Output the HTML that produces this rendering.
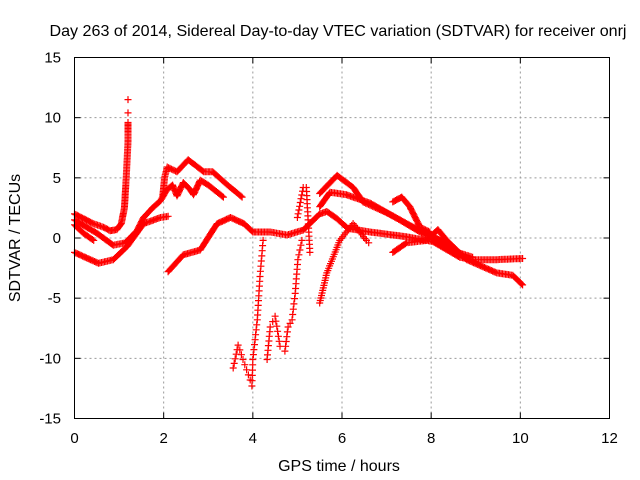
<!DOCTYPE html>
<html><head><meta charset="utf-8"><style>
body{margin:0;background:#fff;}
svg{display:block;font-family:"Liberation Sans",sans-serif;}
</style></head><body>
<svg id="chart" width="640" height="480">
<text x="338" y="36" font-size="16" text-anchor="middle" textLength="577" lengthAdjust="spacingAndGlyphs">Day 263 of 2014, Sidereal Day-to-day VTEC variation (SDTVAR) for receiver onrj</text>
<text x="339" y="471" font-size="16" text-anchor="middle">GPS time / hours</text>
<text x="20" y="238" font-size="16" text-anchor="middle" transform="rotate(-90 20 238)">SDTVAR / TECUs</text>
<g id="grid"></g>
<g id="ticks"></g>
<g id="marks"></g>
<rect x="74.5" y="57.5" width="535" height="361" fill="none" stroke="#000" stroke-width="1"/>
</svg>
<script>
const xTicks=[0,2,4,6,8,10,12];
const yTicks=[-15,-10,-5,0,5,10,15];
// series: flattened [hour, value] pairs
const seriesSpike=[0,2.0, 0.42,1.2, 0.65,0.9, 0.8,0.6, 0.95,0.7, 1.05,1.2, 1.12,2.5, 1.16,5, 1.2,8, 1.2,9.6];
const spikeTop=[1.2,10.4, 1.2,11.5];
const seriesMid=[0,1.5, 0.5,0.4, 0.87,-0.6, 1.14,-0.4, 1.4,0.6, 1.55,1.7, 1.75,2.5, 1.93,3.1, 2.07,4.0, 2.2,4.4, 2.3,3.5, 2.44,4.6, 2.6,4.0, 2.67,3.6, 2.82,4.8, 3.0,4.4, 3.34,3.4];
const seriesShort=[0,1.1, 0.2,0.4, 0.43,-0.2];
const seriesLow=[0,-1.2, 0.54,-2.1, 0.87,-1.8, 1.18,-0.7, 1.55,1.2, 1.93,1.7, 2.1,1.8];
const seriesUpper=[1.98,3.5, 2.02,5.0, 2.08,5.9, 2.3,5.5, 2.55,6.5, 2.9,5.5, 3.1,5.5, 3.4,4.5, 3.76,3.4];
const seriesLong=[2.1,-2.8, 2.44,-1.4, 2.82,-1.0, 3.2,1.2, 3.5,1.7, 3.8,1.2, 4.0,0.5, 4.39,0.5, 4.77,0.25, 5.13,0.66, 5.5,2.0, 5.66,2.2, 5.89,1.6, 6.13,0.8, 6.63,0.5, 7.45,0.1, 8.04,-0.3, 8.64,-1.6, 8.93,-1.8, 9.47,-1.8, 10.05,-1.7];
const seriesRise=[5.5,-5.4, 5.66,-2.9, 5.95,-0.2, 6.25,1.2, 6.55,-0.2, 6.6,-0.4];
const seriesTop=[5.5,3.7, 5.89,5.2, 6.25,4.2, 6.47,3.0, 7.0,2.1, 7.6,0.9, 7.9,0.4, 8.48,-0.75, 8.8,-1.8, 9.47,-2.9, 9.83,-3.1, 10.05,-3.9];
const seriesSecond=[5.5,2.6, 5.73,3.8, 6.1,3.6, 6.63,2.9, 7.3,1.5, 7.75,0.5, 8.2,-0.2, 8.64,-1.25, 8.93,-1.6];
const seriesBump=[7.14,3.0, 7.34,3.4, 7.52,2.6, 7.75,0.9, 7.97,0.5];
const seriesDip=[7.14,-1.2, 7.45,-0.4, 7.9,-0.2, 8.15,0.7, 8.35,-0.2, 8.64,-1.25];
const sparseA=[3.56,-10.8, 3.67,-8.9, 3.78,-10.1, 3.94,-11.8, 3.98,-12.3, 4.0,-10.1, 4.1,-6.8, 4.16,-3.2, 4.23,-0.2];
const sparseB=[4.32,-10.1, 4.39,-7.4, 4.5,-6.5, 4.61,-9.0, 4.72,-9.4, 4.79,-7.4, 4.88,-6.8, 4.95,-4.6, 5.01,-1.8, 5.1,-0.2];
const sparseC=[5.0,1.7, 5.13,4.2, 5.2,4.2, 5.28,-1.2];

const X0=74.5,X1=609.5,Y0=418.5,Y1=57.5;
function sx(v){return X0+(v-0)/12*(X1-X0);}
function sy(v){return Y0-(v+15)/30*(Y0-Y1);}
const NS='http://www.w3.org/2000/svg';
const grid=document.getElementById('grid'),ticks=document.getElementById('ticks'),marks=document.getElementById('marks');
function mk(tag,attrs,parent){const e=document.createElementNS(NS,tag);for(const k in attrs)e.setAttribute(k,attrs[k]);parent.appendChild(e);return e;}
xTicks.forEach(t=>{
  const x=sx(t);
  if(t>0&&t<12){const g=mk('line',{x1:x,x2:x,y1:Y0,y2:Y1,stroke:'#999','stroke-dasharray':'2,3'},grid);
  
  }
  mk('line',{x1:x,x2:x,y1:Y0,y2:Y0-6,stroke:'#000'},ticks);
  mk('line',{x1:x,x2:x,y1:Y1,y2:Y1+6,stroke:'#000'},ticks);
  const l=mk('text',{x:x,y:443,'font-size':15,'text-anchor':'middle'},ticks);l.textContent=t;
  
  
});
yTicks.forEach(t=>{
  const y=sy(t);
  if(t>-15&&t<15){const g=mk('line',{x1:X0,x2:X1,y1:y,y2:y,stroke:'#999','stroke-dasharray':'2,3'},grid);
  
  }
  mk('line',{x1:X0,x2:X0+6,y1:y,y2:y,stroke:'#000'},ticks);
  mk('line',{x1:X1,x2:X1-6,y1:y,y2:y,stroke:'#000'},ticks);
  const l=mk('text',{x:61,y:y+5,'font-size':15,'text-anchor':'end'},ticks);l.textContent=t;
  
  
});
function drawSeries(arr,step,name){
  let d='';
  const pts=[];for(let i=0;i<arr.length;i+=2)pts.push([sx(arr[i]),sy(arr[i+1])]);
  const plus=(x,y)=>{d+=`M${(x-3.5).toFixed(1)} ${y.toFixed(1)}h7M${x.toFixed(1)} ${(y-3.5).toFixed(1)}v7`;};
  plus(pts[0][0],pts[0][1]);
  for(let i=1;i<pts.length;i++){
    const [ax,ay]=pts[i-1],[bx,by]=pts[i];
    const len=Math.hypot(bx-ax,by-ay);const n=Math.max(1,Math.round(len/step));
    for(let k=1;k<=n;k++)plus(ax+(bx-ax)*k/n,ay+(by-ay)*k/n);
  }
  const p=mk('path',{d:d,stroke:'#f00','stroke-width':1.2,fill:'none'},marks);
  
  
}
drawSeries(seriesSpike,1.5,'series-spike');
drawSeries(spikeTop,12,'series-spike-top');
drawSeries(seriesMid,1.5,'series-middle');
drawSeries(seriesShort,1.5,'series-short');
drawSeries(seriesLow,1.5,'series-low');
drawSeries(seriesUpper,1.5,'series-upper');
drawSeries(seriesLong,1.5,'series-long');
drawSeries(seriesRise,2.5,'series-rise');
drawSeries(seriesTop,1.5,'series-top');
drawSeries(seriesSecond,1.5,'series-second');
drawSeries(seriesBump,1.5,'series-bump');
drawSeries(seriesDip,1.5,'series-dip');
drawSeries(sparseA,5,'series-sparse-a');
drawSeries(sparseB,5,'series-sparse-b');
drawSeries(sparseC,4,'series-sparse-c');
</script>
</body></html>
